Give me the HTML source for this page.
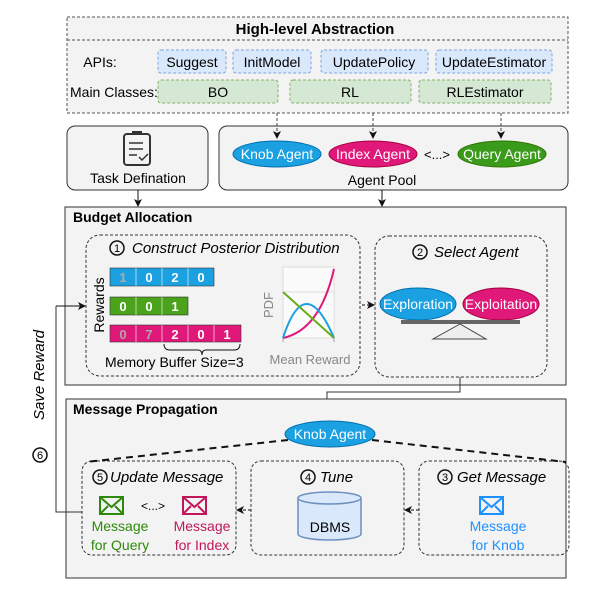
<!DOCTYPE html>
<html><head><meta charset="utf-8"><style>
body{margin:0;background:#fff}
svg{display:block;font-family:"Liberation Sans",sans-serif}
</style></head><body>
<svg width="605" height="589" viewBox="0 0 605 589" xmlns="http://www.w3.org/2000/svg">
<defs>
<marker id="ar" markerWidth="8" markerHeight="8" refX="7" refY="4" orient="auto" markerUnits="userSpaceOnUse"><path d="M0,0 L8,4 L0,8 L2,4z" fill="#111"/></marker>
</defs>
<rect x="67" y="17" width="501" height="96" fill="#f3f3f3" stroke="#555" stroke-dasharray="3,2"/>
<line x1="67" y1="40" x2="568" y2="40" stroke="#555" stroke-dasharray="3,2"/>
<text x="315" y="34" font-size="15" font-weight="bold" text-anchor="middle">High-level Abstraction</text>
<text x="100" y="67" font-size="14" text-anchor="middle">APIs:</text>
<text x="70" y="97" font-size="14">Main Classes:</text>
<g fill="#dae8fc" stroke="#7ea6e0" stroke-dasharray="3,2">
<rect x="158" y="50" width="68" height="23" rx="3"/><rect x="233" y="50" width="78" height="23" rx="3"/>
<rect x="321" y="50" width="107" height="23" rx="3"/><rect x="436" y="50" width="116" height="23" rx="3"/></g>
<g fill="#d5e8d4" stroke="#82b366" stroke-dasharray="3,2">
<rect x="158" y="80" width="120" height="23" rx="3"/><rect x="290" y="80" width="121" height="23" rx="3"/><rect x="419" y="80" width="132" height="23" rx="3"/></g>
<g font-size="14" text-anchor="middle">
<text x="192" y="67">Suggest</text><text x="272" y="67">InitModel</text><text x="374" y="67">UpdatePolicy</text><text x="494" y="67">UpdateEstimator</text>
<text x="218" y="97">BO</text><text x="350" y="97">RL</text><text x="485" y="97">RLEstimator</text></g>
<rect x="67" y="126" width="141" height="64" rx="8" fill="#f3f3f3" stroke="#333"/>
<rect x="124" y="134" width="26" height="31" rx="3" fill="none" stroke="#333" stroke-width="2"/>
<rect x="132" y="131" width="10" height="4" fill="#333"/>
<path d="M129,143h14M129,149h14M129,155h8M139,157l3,3l6,-6" stroke="#333" stroke-width="1.5" fill="none"/>
<text x="138" y="183" font-size="14" text-anchor="middle">Task Defination</text>
<rect x="219" y="126" width="349" height="64" rx="8" fill="#f3f3f3" stroke="#333"/>
<g stroke="#444" stroke-dasharray="3,2"><line x1="277" y1="113" x2="277" y2="138" marker-end="url(#ar)"/><line x1="373" y1="113" x2="373" y2="138" marker-end="url(#ar)"/><line x1="501" y1="113" x2="501" y2="138" marker-end="url(#ar)"/></g>
<ellipse cx="277" cy="154" rx="44" ry="13" fill="#1ba1e2" stroke="#006eaf"/>
<ellipse cx="373" cy="154" rx="44" ry="13" fill="#e0187a" stroke="#a50040"/>
<ellipse cx="502" cy="154" rx="44" ry="13" fill="#3a9a1a" stroke="#2d7600"/>
<g font-size="14" fill="#fff" text-anchor="middle"><text x="277" y="159">Knob Agent</text><text x="373" y="159">Index Agent</text><text x="502" y="159">Query Agent</text></g>
<text x="437" y="159" font-size="13" text-anchor="middle">&lt;...&gt;</text>
<text x="382" y="185" font-size="14" text-anchor="middle">Agent Pool</text>
<line x1="138" y1="190" x2="138" y2="206" stroke="#111" marker-end="url(#ar)"/>
<line x1="382" y1="190" x2="382" y2="206" stroke="#111" marker-end="url(#ar)"/>
<rect x="65" y="207" width="501" height="178" fill="#f3f3f3" stroke="#333"/>
<text x="73" y="222" font-size="14" font-weight="bold">Budget Allocation</text>
<rect x="86" y="235" width="274" height="141" rx="14" fill="none" stroke="#333" stroke-dasharray="3,2"/>
<rect x="375" y="236" width="172" height="141" rx="14" fill="none" stroke="#333" stroke-dasharray="3,2"/>
<circle cx="117" cy="248" r="7" fill="none" stroke="#111" stroke-width="1.5"/><text x="117" y="252" font-size="11" text-anchor="middle">1</text>
<text x="132" y="253" font-size="15" font-style="italic">Construct Posterior Distribution</text>
<circle cx="420" cy="252" r="7" fill="none" stroke="#111" stroke-width="1.5"/><text x="420" y="256" font-size="11" text-anchor="middle">2</text>
<text x="434" y="257" font-size="15" font-style="italic">Select Agent</text>
<g stroke="#fff" stroke-width="0.6">
<rect x="110" y="268" width="104" height="18" fill="#1ba1e2" stroke="#333"/>
<rect x="110" y="297" width="78" height="18" fill="#4aa31a" stroke="#333"/>
<rect x="110" y="325" width="131" height="17" fill="#e0187a" stroke="#333"/>
<path d="M136,268v18M162,268v18M188,268v18M136,297v18M162,297v18M136,325v17M162,325v17M188,325v17M214,325v17"/>
</g>
<g font-size="13" font-weight="bold" fill="#fff" text-anchor="middle">
<text x="123" y="282" fill="#aaa">1</text><text x="149" y="282">0</text><text x="175" y="282">2</text><text x="201" y="282">0</text>
<text x="123" y="311">0</text><text x="149" y="311">0</text><text x="175" y="311">1</text>
<text x="123" y="339" fill="#aaa">0</text><text x="149" y="339" fill="#aaa">7</text><text x="175" y="339">2</text><text x="201" y="339">0</text><text x="227" y="339">1</text></g>
<path d="M164,344 q0,6 6,6 h28 q4,0 4,5 q0,-5 4,-5 h28 q6,0 6,-6" fill="none" stroke="#111"/>
<text x="105" y="367" font-size="14">Memory Buffer Size=3</text>
<text x="104" y="305" font-size="14" text-anchor="middle" transform="rotate(-90 104 305)">Rewards</text>
<line x1="56" y1="306" x2="85" y2="306" stroke="#111" marker-end="url(#ar)"/>
<rect x="283" y="267" width="51" height="71" fill="#fafafa" stroke="#ddd"/>
<line x1="283" y1="292" x2="334" y2="292" stroke="#ddd"/>
<path d="M283,338v4M334,338v4" stroke="#aaa"/>
<path d="M283,338 Q320,330 334,269" stroke="#e0187a" stroke-width="2" fill="none"/>
<path d="M283,338 Q305,270 334,338" stroke="#1ba1e2" stroke-width="2" fill="none"/>
<line x1="283" y1="292" x2="334" y2="338" stroke="#6aad1a" stroke-width="2"/>
<text x="273" y="305" font-size="13" fill="#888" text-anchor="middle" transform="rotate(-90 273 305)">PDF</text>
<text x="310" y="364" font-size="13" fill="#888" text-anchor="middle">Mean Reward</text>
<line x1="362" y1="305" x2="374" y2="305" stroke="#111" stroke-dasharray="3,2" marker-end="url(#ar)"/>
<ellipse cx="418" cy="304" rx="38" ry="16" fill="#1ba1e2" stroke="#006eaf"/>
<ellipse cx="501" cy="304" rx="38" ry="16" fill="#e0187a" stroke="#a50040"/>
<g font-size="14" fill="#fff" text-anchor="middle"><text x="418" y="309">Exploration</text><text x="501" y="309">Exploitation</text></g>
<rect x="401" y="320" width="119" height="4" fill="#666"/>
<path d="M460,324 L433,339 H486 Z" fill="#eee" stroke="#444"/>
<path d="M460,377 V392 H327 V424" fill="none" stroke="#333" marker-end="url(#ar)"/>
<rect x="66" y="399" width="500" height="179" fill="#f3f3f3" stroke="#333"/>
<text x="73" y="414" font-size="14" font-weight="bold">Message Propagation</text>
<rect x="82" y="461" width="154" height="94" rx="10" fill="none" stroke="#333" stroke-dasharray="3,2"/>
<rect x="251" y="461" width="153" height="94" rx="10" fill="none" stroke="#333" stroke-dasharray="3,2"/>
<rect x="419" y="461" width="150" height="94" rx="10" fill="none" stroke="#333" stroke-dasharray="3,2"/>
<path d="M288,440 L86,462 M372,440 L566,462" stroke="#111" stroke-width="2" stroke-dasharray="7,5"/>
<ellipse cx="330" cy="434" rx="45" ry="13" fill="#1ba1e2" stroke="#006eaf"/>
<text x="330" y="439" font-size="14" fill="#fff" text-anchor="middle">Knob Agent</text>
<circle cx="100" cy="477" r="7" fill="none" stroke="#111" stroke-width="1.5"/><text x="100" y="481" font-size="11" text-anchor="middle">5</text>
<text x="110" y="482" font-size="15" font-style="italic">Update Message</text>
<circle cx="308" cy="477" r="7" fill="none" stroke="#111" stroke-width="1.5"/><text x="308" y="481" font-size="11" text-anchor="middle">4</text>
<text x="320" y="482" font-size="15" font-style="italic">Tune</text>
<circle cx="445" cy="477" r="7" fill="none" stroke="#111" stroke-width="1.5"/><text x="445" y="481" font-size="11" text-anchor="middle">3</text>
<text x="457" y="482" font-size="15" font-style="italic">Get Message</text>
<g fill="none" stroke-width="2">
<rect x="100" y="497" width="23" height="17" stroke="#2d8a0a"/><path d="M100,497 l11.5,10 l11.5,-10M100,514l8,-8M123,514l-8,-8" stroke="#2d8a0a"/>
<rect x="183" y="497" width="23" height="17" stroke="#c0185a"/><path d="M183,497 l11.5,10 l11.5,-10M183,514l8,-8M206,514l-8,-8" stroke="#c0185a"/>
<rect x="480" y="497" width="23" height="17" stroke="#1e90ff"/><path d="M480,497 l11.5,10 l11.5,-10M480,514l8,-8M503,514l-8,-8" stroke="#1e90ff"/>
</g>
<text x="153" y="510" font-size="12" text-anchor="middle">&lt;...&gt;</text>
<g font-size="14" text-anchor="middle">
<text x="120" y="531" fill="#2d8a0a">Message</text><text x="120" y="550" fill="#2d8a0a">for Query</text>
<text x="202" y="531" fill="#c0185a">Message</text><text x="202" y="550" fill="#c0185a">for Index</text>
<text x="498" y="531" fill="#1e90ff">Message</text><text x="498" y="550" fill="#1e90ff">for Knob</text></g>
<path d="M298,498 V534 A31.5,6 0 0 0 361,534 V498" fill="#dae8fc" stroke="#6c8ebf" stroke-width="1.5"/>
<ellipse cx="329.5" cy="498" rx="31.5" ry="6" fill="#dae8fc" stroke="#6c8ebf" stroke-width="1.5"/>
<text x="330" y="532" font-size="14" text-anchor="middle">DBMS</text>
<line x1="251" y1="510" x2="237" y2="510" stroke="#111" stroke-dasharray="3,2" marker-end="url(#ar)"/>
<line x1="419" y1="510" x2="405" y2="510" stroke="#111" stroke-dasharray="3,2" marker-end="url(#ar)"/>
<path d="M82,512 H56 V306" fill="none" stroke="#333"/>
<circle cx="40" cy="455" r="7" fill="none" stroke="#111" stroke-width="1.5"/><text x="40" y="459" font-size="11" text-anchor="middle">6</text>
<text x="44" y="375" font-size="15" font-style="italic" text-anchor="middle" transform="rotate(-90 44 375)">Save Reward</text>
</svg>
</body></html>
